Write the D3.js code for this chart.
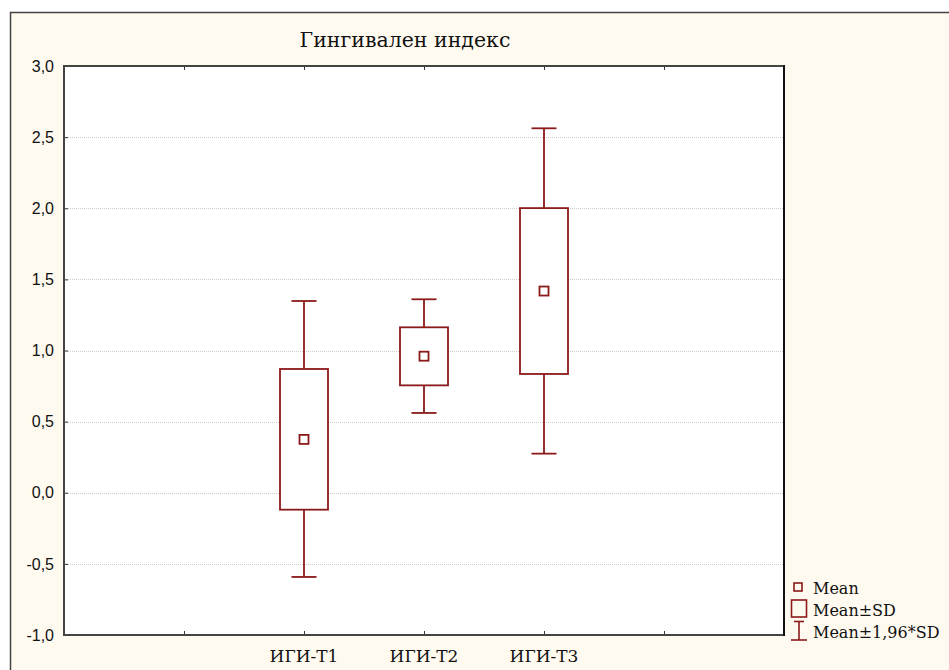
<!DOCTYPE html>
<html>
<head>
<meta charset="utf-8">
<script src="https://cdnjs.cloudflare.com/ajax/libs/d3/7.8.5/d3.min.js"></script>
<style>
  html, body { margin: 0; padding: 0; background: #ffffff; }
  svg { display: block; }
</style>
</head>
<body>
<script>
// Gingival index by time point: mean, mean±SD box, mean±1.96*SD whiskers
const categories = ["ИГИ-Т1", "ИГИ-Т2", "ИГИ-Т3"];
const categoryPos = [2, 3, 4];           // slot on the x axis
const means  = [0.375, 0.96, 1.418];
const sdLow  = [-0.119, 0.755, 0.835];
const sdHigh = [0.870, 1.163, 2.001];
const ciLow  = [-0.592, 0.561, 0.275];
const ciHigh = [1.348, 1.360, 2.562];
const yTicks = [-1.0, -0.5, 0.0, 0.5, 1.0, 1.5, 2.0, 2.5, 3.0];
const xTicks = [1, 2, 3, 4, 5];
const legendItems = ["Mean", "Mean±SD", "Mean±1,96*SD"];

const W = 949, H = 670;
const plot = { left: 64, top: 66, right: 784, bottom: 635 };
const red = "#8b1a1a";
const serif = "'DejaVu Serif', 'Liberation Serif', serif";
const sans = "'Liberation Sans', Arial, sans-serif";

const svg = d3.select("body").append("svg").attr("width", W).attr("height", H);

// outer panel
svg.append("rect").attr("x", 10.5).attr("y", 12.5).attr("width", W).attr("height", H)
  .attr("fill", "#fffaf0").attr("stroke", "#444").attr("stroke-width", 1.5);

const x = d3.scaleLinear().domain([0, 6]).range([plot.left, plot.right]);
const y = d3.scaleLinear().domain([-1, 3]).range([plot.bottom, plot.top]);

// plot background
svg.append("rect").attr("x", plot.left).attr("y", plot.top)
  .attr("width", plot.right - plot.left).attr("height", plot.bottom - plot.top)
  .attr("fill", "#ffffff");

// horizontal grid
svg.append("g").selectAll("line").data(yTicks.filter(v => v > -1 && v < 3)).join("line")
  .attr("x1", plot.left).attr("x2", plot.right)
  .attr("y1", d => Math.round(y(d)) + 0.5).attr("y2", d => Math.round(y(d)) + 0.5)
  .attr("stroke", "#cccccc").attr("stroke-width", 1).attr("stroke-dasharray", "1,1");

// axes
const fmt = d => d3.format(".1f")(d).replace(".", ",").replace("−", "-");
const yAxis = d3.axisLeft(y).tickValues(yTicks).tickSize(-4).tickPadding(10).tickFormat(fmt);
const gy = svg.append("g").attr("transform", `translate(${plot.left},0)`).call(yAxis);
gy.select(".domain").remove();
gy.selectAll(".tick line").attr("stroke", "#333");
gy.selectAll(".tick text").attr("font-family", sans).attr("font-size", 16).attr("fill", "#111");

const xAxisBottom = d3.axisBottom(x).tickValues(xTicks).tickSize(-4).tickFormat("");
const gxb = svg.append("g").attr("transform", `translate(0,${plot.bottom})`).call(xAxisBottom);
gxb.select(".domain").remove();
gxb.selectAll(".tick line").attr("stroke", "#333");

const xAxisTop = d3.axisTop(x).tickValues(xTicks).tickSize(-4).tickFormat("");
const gxt = svg.append("g").attr("transform", `translate(0,${plot.top})`).call(xAxisTop);
gxt.select(".domain").remove();
gxt.selectAll(".tick line").attr("stroke", "#333");

// category labels
svg.append("g").selectAll("text").data(categories).join("text")
  .attr("x", (d, i) => x(categoryPos[i])).attr("y", 662)
  .attr("text-anchor", "middle").attr("font-family", serif).attr("font-size", 17)
  .attr("fill", "#111").text(d => d);

// plot frame
svg.append("line").attr("x1", plot.left).attr("x2", plot.right).attr("y1", plot.top).attr("y2", plot.top)
  .attr("stroke", "#444").attr("stroke-width", 2);
svg.append("line").attr("x1", plot.left).attr("x2", plot.right).attr("y1", plot.bottom).attr("y2", plot.bottom)
  .attr("stroke", "#444").attr("stroke-width", 2);
svg.append("line").attr("x1", plot.left).attr("x2", plot.left).attr("y1", plot.top - 1).attr("y2", plot.bottom + 1)
  .attr("stroke", "#444").attr("stroke-width", 2);
svg.append("line").attr("x1", plot.right).attr("x2", plot.right).attr("y1", plot.top - 1).attr("y2", plot.bottom + 1)
  .attr("stroke", "#111").attr("stroke-width", 2);

// box-whisker marks
const boxW = 48, capW = 25, meanS = 9;
const g = svg.append("g").attr("stroke", red).attr("stroke-width", 1.8).attr("fill", "#fff");
categories.forEach((c, i) => {
  const cx = x(categoryPos[i]);
  g.append("line").attr("x1", cx).attr("x2", cx).attr("y1", y(ciHigh[i])).attr("y2", y(sdHigh[i]));
  g.append("line").attr("x1", cx).attr("x2", cx).attr("y1", y(sdLow[i])).attr("y2", y(ciLow[i]));
  g.append("line").attr("x1", cx - capW / 2).attr("x2", cx + capW / 2).attr("y1", y(ciHigh[i])).attr("y2", y(ciHigh[i]));
  g.append("line").attr("x1", cx - capW / 2).attr("x2", cx + capW / 2).attr("y1", y(ciLow[i])).attr("y2", y(ciLow[i]));
  g.append("rect").attr("x", cx - boxW / 2).attr("y", y(sdHigh[i]))
    .attr("width", boxW).attr("height", y(sdLow[i]) - y(sdHigh[i]));
  g.append("rect").attr("x", cx - meanS / 2).attr("y", y(means[i]) - meanS / 2)
    .attr("width", meanS).attr("height", meanS);
});

// title
svg.append("text").attr("x", 405).attr("y", 47).attr("text-anchor", "middle")
  .attr("font-family", serif).attr("font-size", 20.5).attr("fill", "#111")
  .text("Гингивален индекс");

// legend
const lg = svg.append("g").attr("stroke", red).attr("stroke-width", 1.6).attr("fill", "none");
lg.append("rect").attr("x", 794).attr("y", 583).attr("width", 8).attr("height", 8);
lg.append("rect").attr("x", 791.5).attr("y", 600).attr("width", 15).attr("height", 17);
lg.append("line").attr("x1", 799).attr("x2", 799).attr("y1", 621).attr("y2", 640);
lg.append("line").attr("x1", 791).attr("x2", 807).attr("y1", 640).attr("y2", 640);
lg.append("line").attr("x1", 794).attr("x2", 804).attr("y1", 621.5).attr("y2", 621.5);
svg.append("g").selectAll("text").data(legendItems).join("text")
  .attr("x", 813).attr("y", (d, i) => 594 + i * 22)
  .attr("font-family", serif).attr("font-size", 16).attr("fill", "#111").text(d => d);
</script>
</body>
</html>
